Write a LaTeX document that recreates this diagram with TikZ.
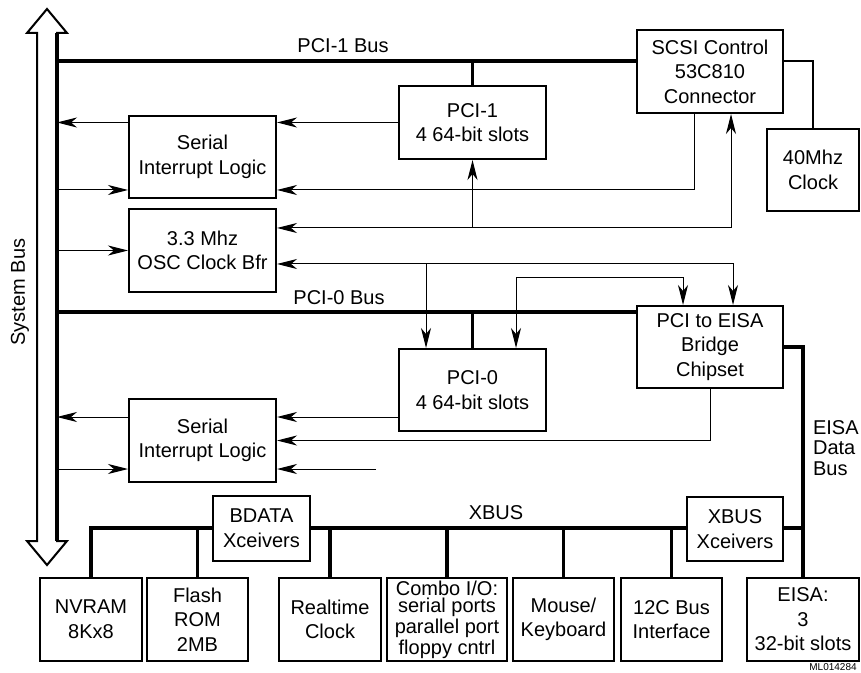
\documentclass[tikz,border=0pt]{standalone}
\usepackage{fontspec}
\setmainfont{Liberation Sans}
\usetikzlibrary{arrows.meta, calc}

\begin{document}
\begin{tikzpicture}[x=0.5pt, y=-0.5pt, >={Stealth[length=10pt, width=5pt, inset=3pt]},
  every node/.style={font=\fontsize{10}{12.3}\selectfont},
  blk/.style={draw, line width=1pt, align=center, inner sep=0pt, fill=white, minimum width=73.5pt, minimum height=41pt},
  low/.style={blk, minimum width=50.5pt, minimum height=41.5pt},
  bus/.style={line width=1.7pt},
  sig/.style={line width=0.5pt}]
  \useasboundingbox (0,0) rectangle (861,673);
  \draw[line width=1pt, line join=miter] (47,9) -- (67,33) -- (57,33) -- (57,541) -- (67,541) -- (47,565) -- (27,541) -- (37,541) -- (37,33) -- (27,33) -- cycle;
  \draw[bus] (57,33) -- (57,541);
  \coordinate (sys) at (57,0);
  \node[rotate=90] (sysl) at (20,292) {System Bus};

  \node[blk, minimum width=73pt, minimum height=41.5pt] (scsi) at (710,71.5) {SCSI Control\\53C810\\Connector};
  \node[blk, minimum width=46pt] (clk) at (813,170) {40Mhz\\Clock};
  \node[blk, minimum height=36.5pt] (pci1) at (472.5,122.5) {PCI-1\\4 64-bit slots};
  \node[blk] (serA) at (202.5,157) {Serial\\Interrupt Logic};
  \node[blk, minimum height=41.5pt] (osc) at (202.5,250.5) {3.3 Mhz\\OSC Clock Bfr};
  \node[blk] (pci0) at (472.5,390) {PCI-0\\4 64-bit slots};
  \node[blk, minimum width=73pt] (bridge) at (710,347) {PCI to EISA\\Bridge\\Chipset};
  \node[blk, minimum height=41.5pt] (serB) at (202.5,440.5) {Serial\\Interrupt Logic};
  \node[blk, minimum width=48.5pt, minimum height=32.5pt] (bdata) at (261.5,528) {BDATA\\Xceivers};
  \node[blk, minimum width=48pt, minimum height=32pt] (xbx) at (735,529) {XBUS\\Xceivers};

  \node[low, minimum width=51pt] (nvram) at (91,619.5) {NVRAM\\8Kx8};
  \node[low] (flash) at (197.5,619.5) {Flash\\ROM\\2MB};
  \node[low, minimum width=51pt] (rtc) at (330,619.5) {Realtime\\Clock};
  \node[low, minimum width=60pt, font=\fontsize{10}{8.7}\selectfont] (combo) at (447,619.5) {Combo I/O:\\serial ports\\parallel port\\floppy cntrl};
  \node[low] (mouse) at (563.5,619.5) {Mouse/\\Keyboard};
  \node[low] (iic) at (671.5,619.5) {12C Bus\\Interface};
  \node[low, minimum width=56pt] (eisa) at (803,619.5) {EISA:\\3\\32-bit slots};

  \node (pci1l) at (343,46) {PCI-1 Bus};
  \node (pci0l) at (339,298) {PCI-0 Bus};
  \node (xbusl) at (496,513) {XBUS};
  \node[anchor=west, align=left, font=\fontsize{10}{10.3}\selectfont] (eisal) at (806,448) {EISA\\Data\\Bus};
  \node[font=\fontsize{5}{6}\selectfont] (mlno) at (833,667) {ML014284};

  \coordinate (p1) at (57,61);
  \draw[bus] (p1) -- (p1 -| scsi.west);
  \draw[bus] (pci1.north) -- (pci1.north |- p1);
  \draw[line width=1pt] (scsi.east |- p1) -| (clk.north);
  \draw[sig, ->] (pci1.west) -- (pci1.west -| serA.east);
  \draw[sig, ->] (serA.west |- pci1.west) -- (sys |- pci1.west);
  \coordinate (scsio) at (694,190);
  \draw[sig, ->] (sys |- scsio) -- (serA.west |- scsio);
  \draw[sig, ->] (scsi.south -| scsio) |- (serA.east |- scsio);
  \coordinate (clka) at (731,228);
  \draw[sig, <->] (osc.east |- clka) -| (scsi.south -| clka);
  \draw[sig, ->] (pci1.south |- clka) -- (pci1.south);
  \draw[sig, ->] (sys |- osc.west) -- (osc.west);
  \coordinate (clkb) at (733,264);
  \coordinate (p0a) at (426,0);
  \draw[sig, <->] (osc.east |- clkb) -| (bridge.north -| clkb);
  \draw[sig, ->] (p0a |- clkb) -- (p0a |- pci0.north);
  \coordinate (clkc) at (516,278);
  \coordinate (brb) at (683,0);
  \draw[sig, <->] (pci0.north -| clkc) |- (brb |- clkc) -- (brb |- bridge.north);

  \coordinate (p0) at (57,312);
  \draw[bus] (p0) -- (p0 -| bridge.west);
  \draw[bus] (pci0.north) -- (pci0.north |- p0);
  \draw[bus] (bridge.east) -| (eisa.north);
  \coordinate (s0) at (0,417);
  \draw[sig, ->] (pci0.west |- s0) -- (serB.east |- s0);
  \draw[sig, ->] (serB.west |- s0) -- (sys |- s0);
  \draw[sig, ->] (bridge.south) |- (serB.east);
  \coordinate (s1) at (376,469);
  \draw[sig, ->] (sys |- s1) -- (serB.west |- s1);
  \draw[sig, ->] (s1) -- (serB.east |- s1);

  \coordinate (xb) at (0,528);
  \draw[bus] (nvram.north) |- (bdata.west |- xb) (bdata.east |- xb) -- (xbx.west |- xb) (xbx.east |- xb) -- (eisa.north |- xb);
  \foreach \n in {flash, rtc, combo, mouse, iic}
    \draw[bus] (\n.north) -- (\n.north |- xb);
\end{tikzpicture}
\end{document}
